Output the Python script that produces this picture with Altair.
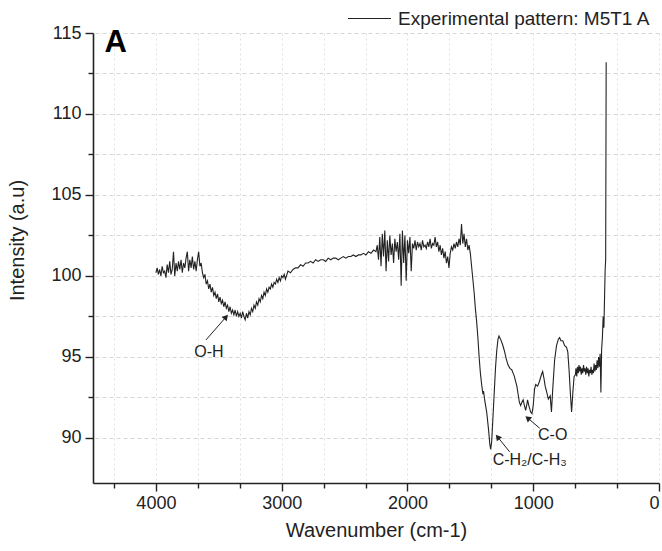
import altair as alt
import pandas as pd

# ---------------- data ----------------
series_name = "Experimental pattern: M5T1 A"

wn1 = list(range(4000, 3635, -10))
int1 = [100.2, 100.5, 100.1, 100.4, 100.0, 100.6, 100.2, 100.3, 99.9, 100.7,
        100.2, 100.9, 100.1, 100.4, 101.5, 100.0, 100.8, 100.3, 100.9, 100.4,
        101.0, 100.2, 100.8, 100.5, 101.1, 101.5, 100.3, 101.0, 100.5, 101.2,
        100.4, 100.9, 100.3, 101.0, 101.5, 100.6, 100.8]

wn2 = list(range(3630, 2965, -10))
int2 = [100.2, 99.9, 100.1, 99.5, 99.7, 99.2, 99.5, 99.0, 99.3, 98.8,
        99.0, 98.6, 98.9, 98.4, 98.7, 98.3, 98.5, 98.1, 98.4, 98.0,
        98.2, 97.8, 98.1, 97.7, 97.9, 97.6, 97.9, 97.5, 97.8, 97.5,
        97.7, 97.4, 97.8, 97.5, 97.3, 97.7, 97.4, 97.8, 97.6, 98.0,
        97.8, 98.2, 98.0, 98.4, 98.2, 98.6, 98.4, 98.8, 98.6, 99.0,
        98.8, 99.2, 99.0, 99.3, 99.2, 99.5, 99.3, 99.6, 99.5, 99.8,
        99.6, 99.9, 99.7, 100.0, 99.9, 100.1, 99.8]

wn3 = list(range(2950, 2245, -20))
int3 = [100.3, 100.2, 100.4, 100.5, 100.5, 100.7, 100.6, 100.8, 100.8, 100.9,
        100.8, 101.0, 100.9, 101.0, 101.0, 100.9, 101.1, 101.0, 101.1, 101.1,
        101.0, 101.1, 101.2, 101.1, 101.2, 101.2, 101.3, 101.2, 101.3, 101.3,
        101.4, 101.3, 101.5, 101.4, 101.6, 101.5]

wn4 = list(range(2240, 1495, -10))
int4 = [101.9, 101.0, 102.4, 100.6, 102.6, 101.2, 102.8, 100.3, 102.2, 100.9,
        102.5, 101.3, 102.0, 100.8, 102.3, 101.5, 102.1, 101.0, 102.6, 99.4,
        102.8, 100.8, 102.5, 99.7, 102.2, 101.4, 102.4, 100.3, 102.0, 101.7,
        102.2, 101.6, 102.1, 101.8, 102.0, 101.6, 102.2, 101.8, 101.9, 101.7,
        102.1, 101.8, 102.3, 101.7, 102.0, 101.9, 102.4, 101.8, 102.1, 101.5,
        101.9, 101.3, 101.7, 101.1, 101.5, 100.8, 101.2, 100.5, 101.4, 101.8,
        101.6, 102.0, 101.7, 102.1, 101.8, 102.3, 101.9, 103.2, 102.0, 102.6,
        101.8, 102.3, 101.6, 101.9, 101.4]

wn5 = [1490, 1480, 1470, 1460, 1450, 1440, 1430, 1420, 1410, 1400,
       1395, 1385, 1370, 1355, 1345, 1338, 1330, 1320, 1310, 1300,
       1290, 1280, 1272, 1260, 1245, 1230, 1215, 1200, 1185, 1170,
       1160, 1150, 1140, 1130, 1120, 1110, 1100, 1090, 1080, 1070,
       1060, 1050, 1045, 1035, 1020, 1010, 1000, 990, 980, 965,
       950, 935, 925, 915, 905, 895, 880, 865, 855, 845,
       830, 815, 800, 790, 780, 765, 750, 735, 725, 715,
       705, 695, 685, 675]
int5 = [100.6, 99.8, 99.0, 98.0, 97.2, 96.2, 95.0, 94.0, 93.3, 92.7,
        92.9, 92.3, 91.6, 90.5, 89.6, 89.3, 89.8, 91.3, 92.8, 94.3,
        95.4, 96.1, 96.3, 96.1, 95.8, 95.4, 94.9, 94.5, 94.3, 94.2,
        94.0, 93.8, 93.5, 93.2, 92.7, 92.2, 92.0, 92.2, 92.35, 92.0,
        91.7, 92.1, 92.35, 92.0, 91.6, 91.5, 92.0, 93.0, 93.3, 93.2,
        93.5, 93.9, 94.1, 93.7, 93.2, 92.9, 92.4, 92.6, 91.6, 93.0,
        94.8, 95.7, 96.1, 96.2, 96.0, 96.0, 95.7, 95.6, 95.3, 94.2,
        92.8, 91.6, 92.8, 93.8]

wn6 = [665, 660, 654, 648, 642, 636, 630, 624, 618, 612,
       606, 600, 594, 588, 582, 576, 570, 564, 558, 552,
       546, 540, 534, 528, 522, 516, 510, 504, 498, 492,
       486, 480, 474, 468, 462, 456, 450, 444, 438, 432,
       428, 424, 420]
int6 = [93.9, 94.3, 93.8, 94.4, 94.0, 94.5, 94.1, 94.4, 93.9, 94.3,
        94.0, 94.5, 94.1, 94.3, 93.9, 94.4, 94.0, 94.3, 93.8, 94.2,
        94.0, 94.4, 93.9, 94.2, 94.0, 94.6, 94.1, 94.5, 94.2, 94.8,
        94.3, 95.0, 94.4, 95.2, 92.8, 95.5, 96.2, 97.5, 96.8, 99.0,
        100.4, 101.0, 113.2]

# annotations (data coordinates)
ann_text = ["O-H", "C-H\u2082/C-H\u2083", "C-O"]
ann_x = [3578, 1028, 845]
ann_y = [95.3, 88.64, 90.19]
arr_x1 = [3602, 1187, 948]
arr_y1 = [96.05, 89.14, 90.6]
arr_x2 = [3442, 1283, 1044]
arr_y2 = [97.47, 90.06, 91.23]
arr_angle = [41, 321, 310]

panel_label = "A"
panel_x = [4319]
panel_y = [114.38]

x_ticks = [4500 - i * 1000 / 6 for i in range(28)]
y_ticks = [90 + 2.5 * i for i in range(11)]

# ---------------- build tables ----------------
wn = wn1 + wn2 + wn3 + wn4 + wn5 + wn6
inten = int1 + int2 + int3 + int4 + int5 + int6
df = pd.DataFrame({"wn": wn, "intensity": inten, "series": series_name})
df["order"] = range(len(df))

ann = pd.DataFrame({"text": ann_text, "x": ann_x, "y": ann_y})
arr = pd.DataFrame({"x1": arr_x1, "y1": arr_y1, "x2": arr_x2, "y2": arr_y2,
                    "angle": arr_angle})
pan = pd.DataFrame({"text": [panel_label], "x": panel_x, "y": panel_y})

FONT = "Liberation Sans"
INK = "#222222"

xscale = alt.Scale(domain=[0, 4500], reverse=True, nice=False, zero=False)
yscale = alt.Scale(domain=[87.22, 115], nice=False, zero=False)

x_major = "abs(datum.value % 1000) < 1 || abs(datum.value % 1000) > 999"
y_major = "abs(datum.value % 5) < 0.01 || abs(datum.value % 5) > 4.99"

xaxis = alt.Axis(
    values=x_ticks,
    labelExpr=f"({x_major}) ? format(round(datum.value), 'd') : ''",
    tickSize={"condition": {"test": x_major, "value": 8}, "value": 5},
    title="Wavenumber (cm-1)",
    grid=True, gridDash=[2, 3], gridColor="#d9d9d9", gridWidth=0.8,
    domainColor=INK, domainWidth=1.6, tickColor=INK, tickWidth=1.4,
    labelFont=FONT, labelFontSize=18, labelColor=INK, labelPadding=3,
    titleFont=FONT, titleFontSize=20, titleFontWeight="normal",
    titleColor=INK, titlePadding=8, labelFlush=True, labelOverlap=False,
)
yaxis = alt.Axis(
    values=y_ticks,
    labelExpr=f"({y_major}) ? format(round(datum.value), 'd') : ''",
    tickSize={"condition": {"test": y_major, "value": 8}, "value": 5},
    title="Intensity (a.u)",
    grid=True, gridDash=[4, 3], gridColor="#cccccc", gridWidth=0.8,
    domainColor=INK, domainWidth=1.6, tickColor=INK, tickWidth=1.4,
    labelFont=FONT, labelFontSize=18, labelColor=INK, labelPadding=4,
    titleFont=FONT, titleFontSize=20, titleFontWeight="normal",
    titleColor=INK, titleX=-66, titleY=207, labelFlush=False,
    labelOverlap=False,
)

line = alt.Chart(df).mark_line(strokeWidth=1.1, clip=True).encode(
    x=alt.X("wn:Q", scale=xscale, axis=xaxis),
    y=alt.Y("intensity:Q", scale=yscale, axis=yaxis),
    order="order:Q",
    color=alt.Color(
        "series:N",
        scale=alt.Scale(domain=[series_name], range=[INK]),
        legend=alt.Legend(
            title=None, orient="none", legendX=254, legendY=-37,
            symbolType="stroke", symbolSize=1850, symbolStrokeWidth=1,
            labelFont=FONT, labelFontSize=19, labelColor=INK, labelOffset=6,
            labelLimit=0,
        ),
    ),
)

rules = alt.Chart(arr).mark_rule(color=INK, strokeWidth=1).encode(
    x="x1:Q", y="y1:Q", x2="x2:Q", y2="y2:Q"
)
heads = alt.Chart(arr).mark_point(
    shape="triangle-up", filled=True, color=INK, size=45, opacity=1
).encode(x="x2:Q", y="y2:Q", angle=alt.Angle("angle:Q", scale=None))

labels = alt.Chart(ann).mark_text(
    font=FONT, fontSize=16, color=INK, align="center", baseline="middle"
).encode(x="x:Q", y="y:Q", text="text:N")

panel = alt.Chart(pan).mark_text(
    font=FONT, fontSize=31, fontWeight="bold", color="#000000",
    align="center", baseline="middle"
).encode(x="x:Q", y="y:Q", text="text:N")

chart = alt.layer(line, rules, heads, labels, panel).properties(
    width=566, height=450,
    autosize=alt.AutoSizeParams(type="none"),
    padding={"left": 93, "top": 33, "right": 3, "bottom": 68},
    background="white",
).configure_view(stroke=None)

chart.save("out.html", embed_options={"renderer": "svg", "actions": False})
